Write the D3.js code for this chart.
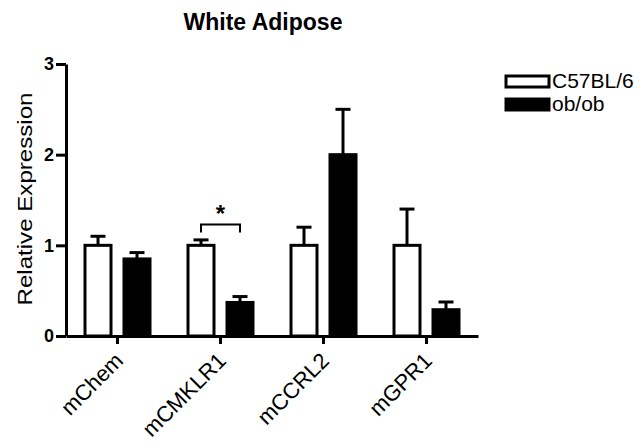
<!DOCTYPE html>
<html>
<head>
<meta charset="utf-8">
<script src="https://cdn.jsdelivr.net/npm/d3@7"></script>
<style>
  body { margin: 0; background: #fff; }
  svg { display: block; font-family: "Liberation Sans", Arial, sans-serif; }
</style>
</head>
<body>
<div class="chart-container"></div>
<script>
const categories = ['mChem', 'mCMKLR1', 'mCCRL2', 'mGPR1']
const c57Values = [1.0, 1.0, 1.0, 1.0]
const c57Errors = [0.1, 0.06, 0.2, 0.4]
const obValues = [0.85, 0.37, 2.0, 0.29]
const obErrors = [0.07, 0.065, 0.5, 0.085]
const yTicks = [0, 1, 2, 3]
const seriesNames = ['C57BL/6', 'ob/ob']

const width = 642
const height = 443
const margin = { top: 64, right: 164, bottom: 107, left: 66 }

const svg = d3
    .select('.chart-container')
    .append('svg')
    .attr('width', width)
    .attr('height', height)

const x = d3
    .scaleBand()
    .domain(categories)
    .range([margin.left, width - margin.right])
    .paddingInner(0)
    .paddingOuter(0)

const y = d3
    .scaleLinear()
    .domain([0, 3])
    .range([height - margin.bottom, margin.top])

const rows = categories.map((c, i) => ({
    cat: c,
    series: [
        { key: 0, value: c57Values[i], err: c57Errors[i] },
        { key: 1, value: obValues[i], err: obErrors[i] }
    ]
}))

const BAR_W = 26
const OFFSET = 19.5
const CAP = 15

// bars + error bars (upper only)
const group = svg
    .selectAll('g.group')
    .data(rows)
    .enter()
    .append('g')
    .attr('class', 'group')

const bar = group
    .selectAll('g.bar')
    .data(d => d.series.map(s => Object.assign({ cat: d.cat }, s)))
    .enter()
    .append('g')
    .attr('class', 'bar')

const cx = d => x(d.cat) + x.bandwidth() / 2 + (d.key === 0 ? -OFFSET : OFFSET)

bar.append('line')
    .attr('x1', cx)
    .attr('x2', cx)
    .attr('y1', d => y(d.value))
    .attr('y2', d => y(d.value + d.err))
    .attr('stroke', '#000')
    .attr('stroke-width', 3)

bar.append('line')
    .attr('x1', d => cx(d) - CAP / 2)
    .attr('x2', d => cx(d) + CAP / 2)
    .attr('y1', d => y(d.value + d.err))
    .attr('y2', d => y(d.value + d.err))
    .attr('stroke', '#000')
    .attr('stroke-width', 3)

bar.append('rect')
    .attr('x', d => cx(d) - BAR_W / 2)
    .attr('y', d => y(d.value))
    .attr('width', BAR_W)
    .attr('height', d => y(0) - y(d.value))
    .attr('fill', d => (d.key === 0 ? '#fff' : '#000'))
    .attr('stroke', '#000')
    .attr('stroke-width', 3)

// y axis
const yAxis = svg
    .append('g')
    .attr('transform', `translate(${margin.left},0)`)
    .call(d3.axisLeft(y).tickValues(yTicks).tickFormat(d3.format('d')).tickSize(10).tickSizeOuter(0).tickPadding(2))
yAxis.select('.domain').attr('stroke-width', 3)
yAxis.selectAll('.tick line').attr('stroke-width', 3)
yAxis.selectAll('.tick text')
    .attr('font-size', 18)
    .attr('font-weight', 'bold')
    .attr('font-family', '"Liberation Sans", Arial, sans-serif')
    .attr('fill', '#000')

// x axis
const xAxis = svg
    .append('g')
    .attr('transform', `translate(0,${y(0)})`)
    .call(d3.axisBottom(x).tickSize(8).tickSizeOuter(0).tickFormat(''))
xAxis.select('.domain').attr('stroke-width', 3)
xAxis.selectAll('.tick line').attr('stroke-width', 3)

svg.append('g')
    .selectAll('text')
    .data(categories)
    .enter()
    .append('text')
    .attr('transform', d => `translate(${x(d) + x.bandwidth() / 2 + 7},${y(0) + 26}) rotate(-45)`)
    .attr('text-anchor', 'end')
    .attr('font-size', 22)
    .attr('fill', '#000')
    .text(d => d)

// title and y label
svg.append('text')
    .attr('x', 263)
    .attr('y', 30)
    .attr('text-anchor', 'middle')
    .attr('font-size', 23)
    .attr('font-weight', 'bold')
    .text('White Adipose')

svg.append('text')
    .attr('transform', 'translate(32,199) rotate(-90)')
    .attr('text-anchor', 'middle')
    .attr('font-size', 20)
    .attr('textLength', 213)
    .attr('lengthAdjust', 'spacingAndGlyphs')
    .text('Relative Expression')

// significance bracket
const sigCat = 'mCMKLR1'
const bx0 = x(sigCat) + x.bandwidth() / 2 - OFFSET
const bx1 = x(sigCat) + x.bandwidth() / 2 + OFFSET
const by = y(1.23)
svg.append('path')
    .attr('d', `M${bx0},${by + 8}V${by}H${bx1}V${by + 8}`)
    .attr('fill', 'none')
    .attr('stroke', '#000')
    .attr('stroke-width', 2)
svg.append('text')
    .attr('x', (bx0 + bx1) / 2)
    .attr('y', by - 2)
    .attr('text-anchor', 'middle')
    .attr('font-size', 24)
    .attr('font-weight', 'bold')
    .text('*')

// legend
const legend = svg
    .append('g')
    .attr('transform', 'translate(506,76)')
    .selectAll('g')
    .data(seriesNames)
    .enter()
    .append('g')
    .attr('transform', (d, i) => `translate(0,${i * 23})`)

legend.append('rect')
    .attr('width', 43)
    .attr('height', 11)
    .attr('fill', (d, i) => (i === 0 ? '#fff' : '#000'))
    .attr('stroke', '#000')
    .attr('stroke-width', 3)

legend.append('text')
    .attr('x', 46)
    .attr('y', 12)
    .attr('font-size', 21)
    .attr('fill', '#000')
    .text(d => d)
</script>
</body>
</html>
